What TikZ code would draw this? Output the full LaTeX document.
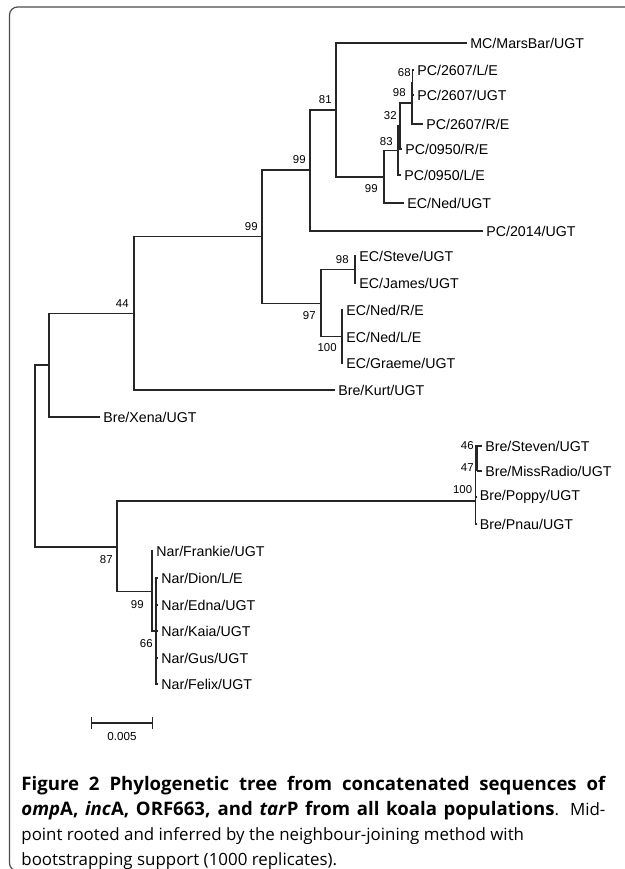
\documentclass[tikz,border=0pt]{standalone}
\usepackage{fontspec}
\setmainfont{Liberation Sans}
\newfontfamily\capfont{Open Sans}
\usetikzlibrary{positioning,calc}
\tikzstyle{leaf} = [anchor=west, inner sep=1.5pt, font=\fontsize{7.1}{8}\selectfont]
\tikzstyle{boot} = [anchor=east, inner sep=0pt, font=\fontsize{5.7}{6}\selectfont]
\tikzstyle{branch} = [draw, line width=0.6pt, black!85]
\tikzstyle{frame} = [draw, line width=0.6pt, black!70, rounded corners=4pt]
\newcommand{\capbf}{\fontsize{9.3}{12.4}\selectfont\bfseries}
\newcommand{\capline}[1]{\makebox[292pt][s]{#1}}

\begin{document}
\begin{tikzpicture}[x=0.5pt, y=-0.5pt]
    \useasboundingbox (0,0) rectangle (625,869);
    \draw[frame] (9.5,7) rectangle (660,871);

    % inner nodes
    \coordinate (root) at (35,456);
    \coordinate (nxena) at (49,365);
    \coordinate (n44) at (134,313.5);
    \coordinate (n99a) at (262,236.5);
    \coordinate (n99b) at (310,170);
    \coordinate (n81) at (336,110);
    \coordinate (n99c) at (384,177);
    \coordinate (n83) at (398,150.5);
    \coordinate (n32) at (400,126);
    \coordinate (n98p) at (412,103);
    \coordinate (n68) at (412.5,82.5);
    \coordinate (n97) at (321,303.5);
    \coordinate (n98e) at (355,269.5);
    \coordinate (n100e) at (342,336.5);
    \coordinate (n87) at (117,547);
    \coordinate (n100b) at (475.5,501);
    \coordinate (n46) at (477,446);
    \coordinate (n47) at (477,471);
    \coordinate (n99n) at (152,591.5);
    \coordinate (n66) at (156,631);

    % leaves
    \node[leaf] at (467,43) (marsbar) {MC/MarsBar/UGT};
    \node[leaf] at (414,70) (pcle) {PC/2607/L/E};
    \node[leaf] at (414,95) (pcugt) {PC/2607/UGT};
    \node[leaf] at (423,124) (pcre) {PC/2607/R/E};
    \node[leaf] at (402,149) (pcnre) {PC/0950/R/E};
    \node[leaf] at (401,175) (pcnle) {PC/0950/L/E};
    \node[leaf] at (404,203) (ecned) {EC/Ned/UGT};
    \node[leaf] at (483,231) (pcfour) {PC/2014/UGT};
    \node[leaf] at (356,256) (steve) {EC/Steve/UGT};
    \node[leaf] at (356,283) (james) {EC/James/UGT};
    \node[leaf] at (343,310) (nedre) {EC/Ned/R/E};
    \node[leaf] at (343,337) (nedle) {EC/Ned/L/E};
    \node[leaf] at (343,363) (graeme) {EC/Graeme/UGT};
    \node[leaf] at (335,390) (kurt) {Bre/Kurt/UGT};
    \node[leaf] at (100,417) (xena) {Bre/Xena/UGT};
    \node[leaf] at (482,446) (steven) {Bre/Steven/UGT};
    \node[leaf] at (482,471) (missradio) {Bre/MissRadio/UGT};
    \node[leaf] at (476.5,497) (poppy) {Bre/Poppy/UGT};
    \node[leaf] at (476.5,524) (pnau) {Bre/Pnau/UGT};
    \node[leaf] at (153,551) (frankie) {Nar/Frankie/UGT};
    \node[leaf] at (158,578) (dion) {Nar/Dion/L/E};
    \node[leaf] at (158,605) (edna) {Nar/Edna/UGT};
    \node[leaf] at (158,631) (kaia) {Nar/Kaia/UGT};
    \node[leaf] at (158,658) (gus) {Nar/Gus/UGT};
    \node[leaf] at (158,684) (felix) {Nar/Felix/UGT};

    % branches
    \draw[branch] (root) |- (nxena);
    \draw[branch] (root) |- (n87);
    \draw[branch] (nxena) |- (n44);
    \draw[branch] (nxena) |- (xena);
    \draw[branch] (n44) |- (n99a);
    \draw[branch] (n44) |- (kurt);
    \draw[branch] (n99a) |- (n99b);
    \draw[branch] (n99a) |- (n97);
    \draw[branch] (n99b) |- (n81);
    \draw[branch] (n99b) |- (pcfour);
    \draw[branch] (n81) |- (marsbar);
    \draw[branch] (n81) |- (n99c);
    \draw[branch] (n99c) |- (n83);
    \draw[branch] (n99c) |- (ecned);
    \draw[branch] (n83) |- (n32);
    \draw[branch] (n83) |- (pcnle);
    \draw[branch] (n32) |- (n98p);
    \draw[branch] (n32) |- (pcnre);
    \draw[branch] (n98p) |- (n68);
    \draw[branch] (n98p) |- (pcre);
    \draw[branch] (n68) |- (pcle);
    \draw[branch] (n68) |- (pcugt);
    \draw[branch] (n97) |- (n98e);
    \draw[branch] (n97) |- (n100e);
    \draw[branch] (n98e) |- (steve);
    \draw[branch] (n98e) |- (james);
    \draw[branch] (n100e) |- (nedre);
    \draw[branch] (n100e) |- (nedle);
    \draw[branch] (n100e) |- (graeme);
    \draw[branch] (n87) |- (n100b);
    \draw[branch] (n87) |- (n99n);
    \draw[branch] (n100b) |- (n46);
    \draw[branch] (n100b) |- (poppy);
    \draw[branch] (n100b) |- (pnau);
    \draw[branch] (n46) -- (n47);
    \draw[branch] (n46) |- (steven);
    \draw[branch] (n47) |- (missradio);
    \draw[branch] (n99n) |- (frankie);
    \draw[branch] (n99n) |- (n66);
    \draw[branch] (n66) |- (dion);
    \draw[branch] (n66) |- (edna);
    \draw[branch] (n66) |- (kaia);
    \draw[branch] (n66) |- (gus);
    \draw[branch] (n66) |- (felix);

    % bootstrap values
    \node[boot] at ($(n81)+(-4,-10)$) (b81) {81};
    \node[boot] at ($(n99b)+(-4,-10)$) (b99b) {99};
    \node[boot] at ($(n99a)+(-4,-9.5)$) (b99a) {99};
    \node[boot] at ($(n44)+(-5,-9.5)$) (b44) {44};
    \node[boot] at ($(n99c)+(-6,12)$) (b99c) {99};
    \node[boot] at ($(n83)+(-5,-8.5)$) (b83) {83};
    \node[boot] at ($(n32)+(-3,-10)$) (b32) {32};
    \node[boot] at ($(n98p)+(-6,-10)$) (b98p) {98};
    \node[boot] at ($(n68)+(-1.5,-9.5)$) (b68) {68};
    \node[boot] at ($(n98e)+(-6,-9.5)$) (b98e) {98};
    \node[boot] at ($(n97)+(-5,12.5)$) (b97) {97};
    \node[boot] at ($(n100e)+(-5,11.5)$) (b100e) {100};
    \node[boot] at ($(n46)+(-3,0)$) (b46) {46};
    \node[boot] at ($(n47)+(-3,-3)$) (b47) {47};
    \node[boot] at ($(n100b)+(-3,-11)$) (b100b) {100};
    \node[boot] at ($(n87)+(-4,13)$) (b87) {87};
    \node[boot] at ($(n99n)+(-8,13.5)$) (b99n) {99};
    \node[boot] at ($(n66)+(-3,13)$) (b66) {66};

    % scale bar
    \coordinate (sbl) at (91,723);
    \coordinate (sbr) at (153,723);
    \draw[branch, |-|] (sbl) -- (sbr);
    \node[font=\fontsize{5.8}{6}\selectfont, inner sep=0pt] at (122,736) (sblabel) {0.005};

    % caption
    \node[anchor=north west, align=left, inner sep=0pt, font=\capfont\fontsize{8.45}{12.4}\selectfont] at (21,776) (caption)
        {\capline{\capbf Figure 2 Phylogenetic tree from concatenated sequences of}\\
         \capline{{\capbf\textit{omp}A, \textit{inc}A, ORF663, and \textit{tar}P from all koala populations}. Mid-}\\
         point rooted and inferred by the neighbour-joining method with\\
         bootstrapping support (1000 replicates).};
\end{tikzpicture}
\end{document}
